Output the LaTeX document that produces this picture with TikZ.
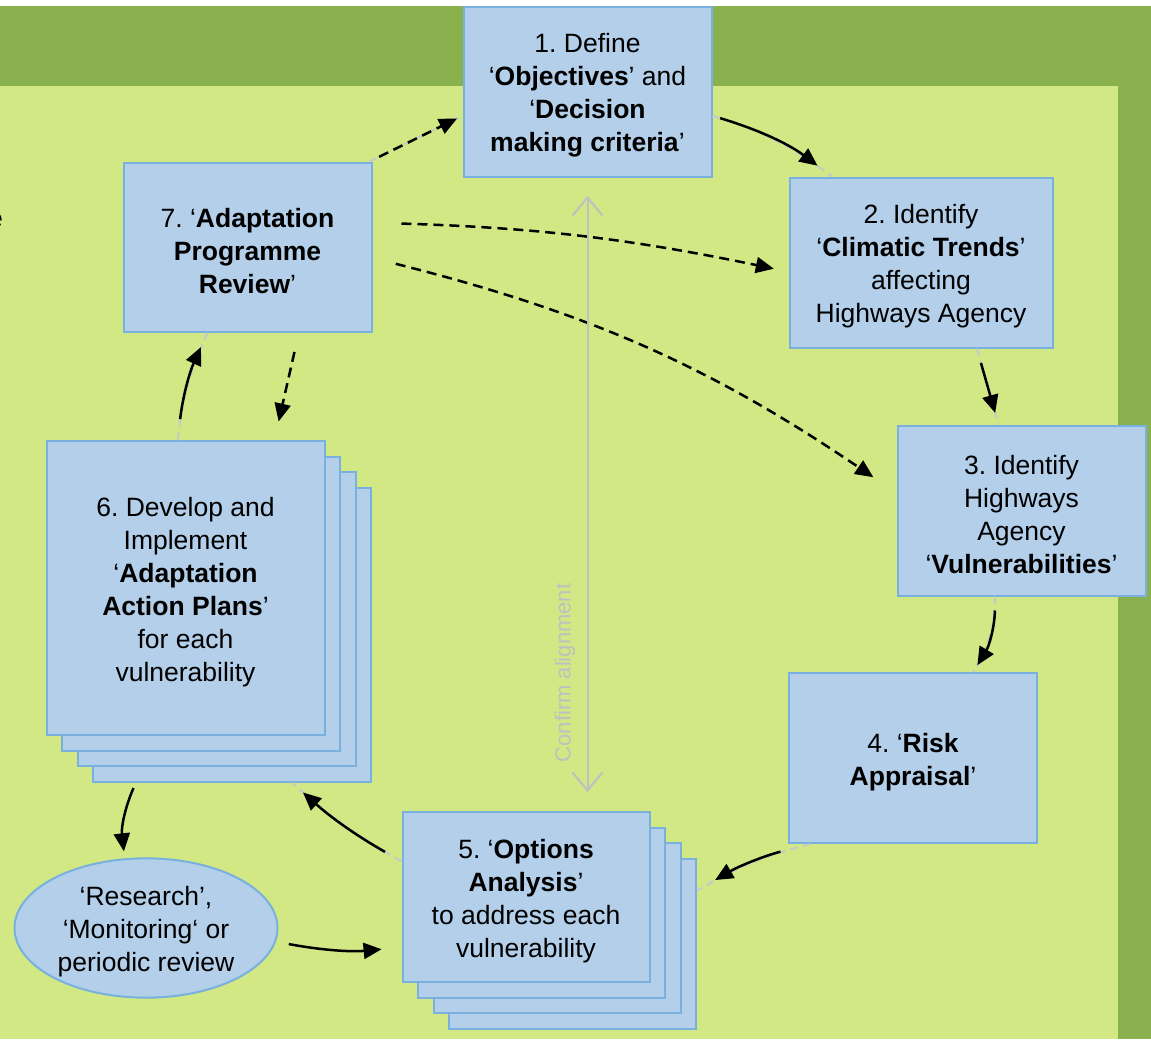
\documentclass[tikz,border=0pt]{standalone}
\usepackage{fontspec}
\setmainfont{Liberation Sans}
\usetikzlibrary{arrows.meta,shapes.geometric}
\frenchspacing
\definecolor{darkgrn}{RGB}{137,178,78}
\definecolor{lightgrn}{RGB}{209,232,132}
\definecolor{boxfill}{RGB}{179,207,233}
\definecolor{boxline}{RGB}{122,176,221}
\definecolor{greybit}{RGB}{200,200,200}
\definecolor{aligngrey}{RGB}{192,192,192}
\newcommand{\tstrut}{\rule{0pt}{27pt}}
\tikzset{
  stepbox/.style={draw=boxline, fill=boxfill, line width=2pt, align=center, inner sep=0pt,
    font=\fontsize{26.5}{33}\selectfont, text=black},
  flowarrow/.style={line width=2.5pt, -{Triangle[length=18pt,width=16pt]}},
  dasharrow/.style={flowarrow, dash pattern=on 10pt off 6pt},
  greyline/.style={draw=greybit, line width=2pt, dash pattern=on 8pt off 5pt},
  alignarrow/.style={draw=aligngrey, line width=2pt,
    {Straight Barb[length=18pt,width=30pt]}-{Straight Barb[length=18pt,width=30pt]}},
}
\begin{document}
\begin{tikzpicture}[x=1pt,y=1pt]
\useasboundingbox (0,0) rectangle (1151,-1039);
% background
\fill[white] (0,0) rectangle (1151,-1039);
\fill[darkgrn] (0,-6) rectangle (1151,-1039);
\fill[lightgrn] (0,-86) rectangle (1118,-1039);

% fragment of cropped text
\node[anchor=base east, inner sep=0pt, font=\fontsize{26.5}{33}\selectfont] (frag) at (3,-227) {e};

% step boxes
\node[stepbox, minimum width=248pt, minimum height=170pt] (n1) at (587.5,-91.5)
  {\tstrut 1. Define\\‘\textbf{Objectives}’ and\\‘\textbf{Decision}\\\textbf{making criteria}’};
\node[stepbox, minimum width=263pt, minimum height=170pt] (n2) at (921,-262.5)
  {\tstrut 2. Identify\\‘\textbf{Climatic Trends}’\\affecting\\Highways Agency};
\node[stepbox, minimum width=248pt, minimum height=170pt] (n3) at (1021.5,-510.5)
  {\tstrut 3. Identify\\Highways\\Agency\\‘\textbf{Vulnerabilities}’};
\node[stepbox, minimum width=248pt, minimum height=170pt] (n4) at (913,-758)
  {\tstrut 4. ‘\textbf{Risk}\\\textbf{Appraisal}’};

\node[stepbox, minimum width=247pt, minimum height=170pt] (n5d) at (572.5,-943.5) {};
\node[stepbox, minimum width=247pt, minimum height=170pt] (n5c) at (557,-928) {};
\node[stepbox, minimum width=247pt, minimum height=170pt] (n5b) at (541.5,-912.5) {};
\node[stepbox, minimum width=247pt, minimum height=170pt] (n5) at (526,-897)
  {\tstrut 5. ‘\textbf{Options}\\\textbf{Analysis}’\\to address each\\vulnerability};

\node[stepbox, minimum width=278pt, minimum height=294pt] (n6d) at (232,-634.5) {};
\node[stepbox, minimum width=278pt, minimum height=294pt] (n6c) at (216.5,-619) {};
\node[stepbox, minimum width=278pt, minimum height=294pt] (n6b) at (201,-603.5) {};
\node[stepbox, minimum width=278pt, minimum height=294pt] (n6) at (185.5,-588)
  {\tstrut 6. Develop and\\Implement\\‘\textbf{Adaptation}\\\textbf{Action Plans}’\\for each\\vulnerability};

\node[stepbox, minimum width=248pt, minimum height=169pt] (n7) at (247.5,-247)
  {\tstrut 7. ‘\textbf{Adaptation}\\\textbf{Programme}\\\textbf{Review}’};

\node[stepbox, ellipse, minimum width=263pt, minimum height=139pt] (res) at (146,-928)
  {\tstrut ‘Research’,\\‘Monitoring‘ or\\periodic review};

% grey connector ends
\draw[greyline] (n1.-11.5) to[bend left=10] (n2.136.3);
\draw[greyline] (n2.-57) -- (n3.105.5);
\draw[greyline] (n3.-107.1) to[bend left=15] (n4.55.8);
\draw[greyline] (n4.220.2) to[bend right=8] (n5d.23.3);
\draw[greyline] (n5.164.7) to[bend left=6] (n6d.-68.9);
\draw[greyline] (n6.93.7) to[bend left=9] (n7.-115.5);
\draw[greyline] (n7.35.4) -- (n1.191.5);

% solid flow
\draw[flowarrow, shorten <=8pt, shorten >=18pt] (n1.-11.5) to[bend left=10] (n2.136.3);
\draw[flowarrow, shorten <=15pt, shorten >=12pt] (n2.-57) -- (n3.105.5);
\draw[flowarrow, shorten <=14pt, shorten >=8pt] (n3.-107.1) to[bend left=15] (n4.55.8);
\draw[flowarrow, shorten <=31pt, shorten >=21pt] (n4.220.2) to[bend right=8] (n5d.23.3);
\draw[flowarrow, shorten <=19pt, shorten >=15pt] (n5.164.7) to[bend left=6] (n6d.-68.9);
\draw[flowarrow, shorten <=6pt, shorten >=7pt] (n6d.-123.9) to[bend right=15] (res.107.7);
\draw[flowarrow, shorten <=13pt, shorten >=20pt] (res.-6.6) to[bend right=8] (n5.-158.8);
\draw[flowarrow, shorten <=21pt, shorten >=16pt] (n6.93.7) to[bend left=9] (n7.-115.5);

% dashed flow
\draw[dasharrow, shorten <=20pt, shorten >=19pt] (n7.-59.3) -- (n6.59.5);
\draw[dasharrow, shorten <=10.6pt, shorten >=6pt] (n7.35.4) -- (n1.191.5);
\draw[dasharrow, shorten <=29pt, shorten >=15pt] (n7.11.4) to[bend left=5] (n2.-176.1);
\draw[dasharrow, shorten <=24pt, shorten >=28pt] (n7.-5) to[bend left=10] (n3.172.7);

% alignment
\draw[alignarrow, shorten <=18.5pt, shorten >=19pt] (n1.south) -- (n1.south |- n5.north);
\node[rotate=90, text=aligngrey, inner sep=0pt, font=\fontsize{22}{26}\selectfont] (conf) at (565,-673) {Confirm alignment};
\end{tikzpicture}
\end{document}
